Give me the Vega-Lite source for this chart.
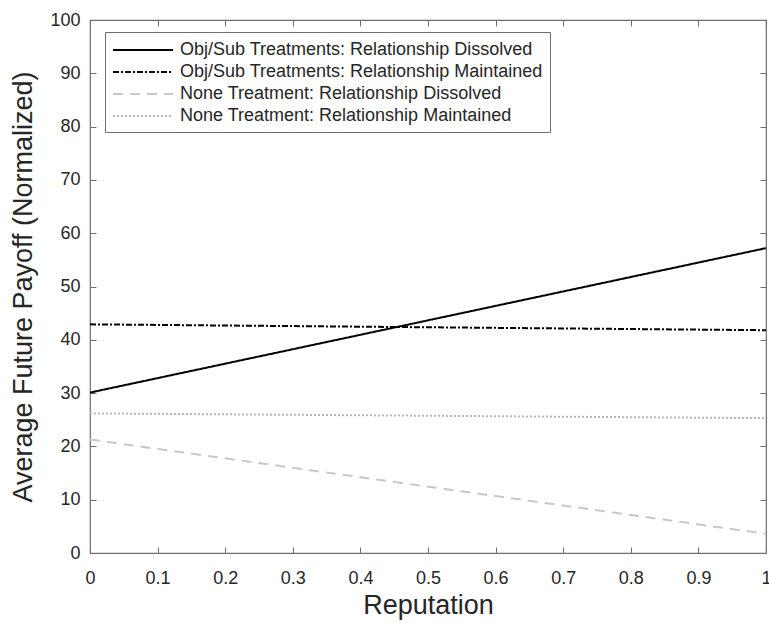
{
  "$schema": "https://vega.github.io/schema/vega-lite/v6.json",
  "width": 676,
  "height": 533,
  "autosize": {"type": "none"},
  "padding": {"left": 90, "top": 20, "right": 3, "bottom": 70},
  "background": "white",
  "config": {
    "font": "Liberation Sans",
    "view": {"stroke": "#6e6e6e", "strokeWidth": 1.2},
    "axis": {
      "domain": false,
      "grid": false,
      "tickColor": "#6e6e6e",
      "tickSize": -6,
      "tickWidth": 1,
      "labelColor": "#262626",
      "labelFont": "Liberation Sans",
      "labelFontSize": 18,
      "titleColor": "#262626",
      "titleFont": "Liberation Sans",
      "titleFontSize": 27,
      "titleFontWeight": "normal"
    }
  },
  "data": {
    "values": [
      {"r": 0, "v": 30.1, "s": "Obj/Sub Treatments: Relationship Dissolved"},
      {"r": 1, "v": 57.2, "s": "Obj/Sub Treatments: Relationship Dissolved"},
      {"r": 0, "v": 42.9, "s": "Obj/Sub Treatments: Relationship Maintained"},
      {"r": 1, "v": 41.8, "s": "Obj/Sub Treatments: Relationship Maintained"},
      {"r": 0, "v": 21.3, "s": "None Treatment: Relationship Dissolved"},
      {"r": 1, "v": 3.6, "s": "None Treatment: Relationship Dissolved"},
      {"r": 0, "v": 26.2, "s": "None Treatment: Relationship Maintained"},
      {"r": 1, "v": 25.3, "s": "None Treatment: Relationship Maintained"}
    ]
  },
  "resolve": {"axis": {"x": "independent", "y": "independent"}},
  "layer": [
    {
      "mark": {"type": "line", "strokeWidth": 2},
      "encoding": {
        "x": {
          "field": "r", "type": "quantitative",
          "scale": {"domain": [0, 1], "nice": false, "zero": false},
          "axis": {"orient": "bottom", "title": "Reputation", "format": ".1~f", "values": [0,0.1,0.2,0.3,0.4,0.5,0.6,0.7,0.8,0.9,1], "labelPadding": 22, "titlePadding": 5, "labelFlush": false, "labelOverlap": false}
        },
        "y": {
          "field": "v", "type": "quantitative",
          "scale": {"domain": [0, 100], "nice": false},
          "axis": {"orient": "left", "title": "Average Future Payoff (Normalized)", "values": [0,10,20,30,40,50,60,70,80,90,100], "labelPadding": 16, "titlePadding": 12, "labelFlush": false, "labelOverlap": false}
        },
        "color": {
          "field": "s", "type": "nominal",
          "scale": {
            "domain": ["Obj/Sub Treatments: Relationship Dissolved", "Obj/Sub Treatments: Relationship Maintained", "None Treatment: Relationship Dissolved", "None Treatment: Relationship Maintained"],
            "range": ["#000000", "#000000", "#c8c8c8", "#b8b8b8"]
          },
          "legend": {
            "title": null,
            "orient": "none",
            "legendX": 15,
            "legendY": 12,
            "fillColor": "white",
            "strokeColor": "#6e6e6e",
            "padding": 7,
            "rowPadding": 2,
            "symbolType": "M-1,0H5",
            "symbolSize": 400,
            "symbolStrokeWidth": 2,
            "labelFont": "Liberation Sans",
            "labelFontSize": 18,
            "labelColor": "#262626",
            "labelLimit": 600,
            "labelOffset": 46
          }
        },
        "strokeDash": {
          "field": "s", "type": "nominal",
          "scale": {
            "domain": ["Obj/Sub Treatments: Relationship Dissolved", "Obj/Sub Treatments: Relationship Maintained", "None Treatment: Relationship Dissolved", "None Treatment: Relationship Maintained"],
            "range": [[1, 0], [6, 2, 2, 2], [10, 7], [2, 2]]
          },
          "legend": null
        }
      }
    },
    {
      "mark": {"type": "line", "strokeOpacity": 0},
      "encoding": {
        "x": {
          "field": "r", "type": "quantitative",
          "axis": {"orient": "top", "title": null, "labels": false, "values": [0,0.1,0.2,0.3,0.4,0.5,0.6,0.7,0.8,0.9,1]}
        },
        "y": {
          "field": "v", "type": "quantitative",
          "axis": {"orient": "right", "title": null, "labels": false, "values": [0,10,20,30,40,50,60,70,80,90,100]}
        },
        "detail": {"field": "s", "type": "nominal"}
      }
    }
  ]
}
